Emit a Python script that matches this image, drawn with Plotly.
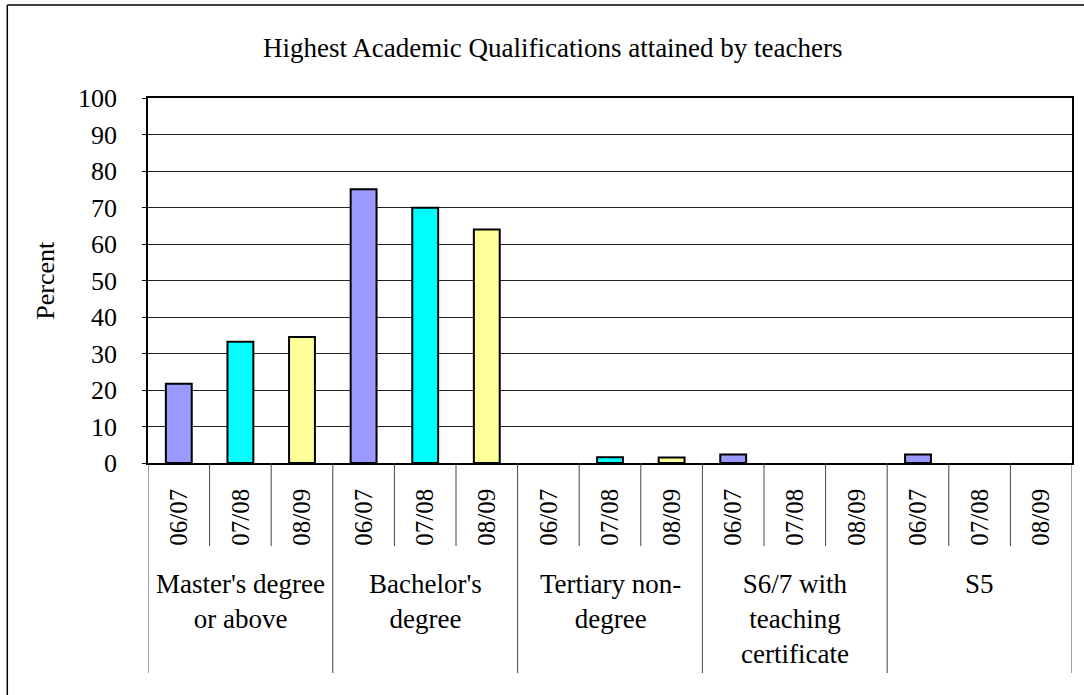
import plotly.graph_objects as go

# data
groups = ["Master's degree<br>or above", "Bachelor's<br>degree", "Tertiary non-<br>degree",
          "S6/7 with<br>teaching<br>certificate", "S5"]
years = ["06/07", "07/08", "08/09"]
pct_0607 = [21.7, 75.0, 0.0, 2.3, 2.3]
pct_0708 = [33.2, 69.9, 1.6, 0.0, 0.0]
pct_0809 = [34.5, 64.0, 1.5, 0.0, 0.0]
colors = ["#9999FF", "#00FFFF", "#FFFF99"]

FONT = "Liberation Serif, Times New Roman, serif"
W, H = 1084, 695
L, T = 148, 98
R = W - 1074
B = H - 463
PW, PH = W - L - R, H - T - B


def px_x(x):
    return (x - L) / PW


def px_y(y):
    return (H - B - y) / PH


cats = [f"{g}|{y}" for g in groups for y in years]

fig = go.Figure()
for yi, (yr, vals) in enumerate(zip(years, [pct_0607, pct_0708, pct_0809])):
    fig.add_trace(go.Bar(x=[f"{g}|{yr}" for g in groups], y=vals, name=yr,
                         marker=dict(color=colors[yi],
                                     line=dict(color="black",
                                               width=[2 if v > 0 else 0 for v in vals])),
                         width=0.42))

shapes = []
# short ticks between years, long dividers between groups
for i in range(len(cats) + 1):
    long_line = i % len(years) == 0
    shapes.append(dict(type="line", xref="x", yref="paper", x0=i - 0.5, x1=i - 0.5,
                       y0=0, y1=px_y(673 if long_line else 546),
                       line=dict(color="#444", width=1)))
# outer chart frame (left and top)
shapes.append(dict(type="line", xref="paper", yref="paper", x0=px_x(7), x1=px_x(7),
                   y0=px_y(5), y1=px_y(720), line=dict(color="black", width=1.5)))
shapes.append(dict(type="line", xref="paper", yref="paper", x0=px_x(7), x1=px_x(1100),
                   y0=px_y(5), y1=px_y(5), line=dict(color="black", width=1.5)))

annotations = []
for gi, g in enumerate(groups):
    annotations.append(dict(x=gi * len(years) + 1, xref="x", y=px_y(567), yref="paper",
                            xanchor="center", yanchor="top", text=g, showarrow=False,
                            font=dict(family=FONT, size=27, color="black")))
annotations.append(dict(x=px_x(554), y=px_y(48), xref="paper", yref="paper",
                        xanchor="center", yanchor="middle",
                        text="Highest Academic Qualifications attained by teachers",
                        showarrow=False, font=dict(family=FONT, size=27, color="black")))
annotations.append(dict(x=px_x(45), y=0.5, xref="paper", yref="paper", text="Percent",
                        xanchor="center", yanchor="middle",
                        textangle=-90, showarrow=False,
                        font=dict(family=FONT, size=26, color="black")))

fig.update_layout(
    width=W, height=H,
    margin=dict(l=L, r=R, t=T, b=B),
    plot_bgcolor="white", paper_bgcolor="white",
    barmode="overlay", showlegend=False,
    shapes=shapes, annotations=annotations,
    font=dict(family=FONT, size=26, color="black"),
)
fig.update_xaxes(type="category", categoryorder="array", categoryarray=cats,
                 tickvals=cats, ticktext=[c.split("|")[1] for c in cats],
                 tickangle=-90, ticks="", showgrid=False, showline=True,
                 linecolor="black", linewidth=1.5, mirror=True,
                 ticklabelstandoff=14, tickfont=dict(size=25),
                 range=[-0.5, len(cats) - 0.5])
fig.update_yaxes(range=[0, 100], dtick=10, showgrid=True, gridcolor="#222", gridwidth=1,
                 showline=True, linecolor="black", linewidth=1.5, mirror=True,
                 ticks="outside", ticklen=4, tickcolor="black", ticklabelstandoff=20,
                 zeroline=False)

# drop the default page margin so the figure sits at the window origin
fig.write_html("out.html", config={"displayModeBar": False},
               post_script="document.body.style.margin='0px';")
